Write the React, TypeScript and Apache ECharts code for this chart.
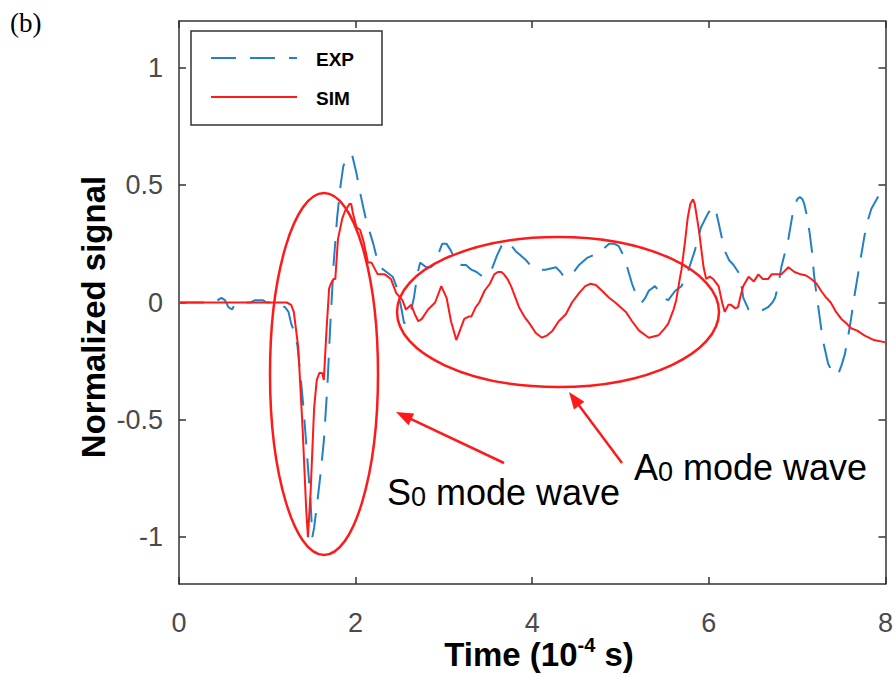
import React, { useEffect, useRef } from "react";
import * as echarts from "echarts";

// ---- data (time in 1e-4 s, normalized signal) ----
const expTime = [
  0, 0.4, 0.44, 0.48, 0.52, 0.56, 0.6, 0.63, 0.68, 0.75, 0.81, 0.86, 0.9, 0.95, 0.99, 1.1, 1.2, 1.24, 1.27, 1.3,
  1.34, 1.38, 1.41, 1.45, 1.49, 1.51, 1.53, 1.56, 1.6, 1.64, 1.68, 1.71, 1.75, 1.79, 1.83, 1.86, 1.9, 1.94, 1.96, 2.01,
  2.05, 2.09, 2.12, 2.16, 2.2, 2.24, 2.28, 2.35, 2.42, 2.48, 2.52, 2.55, 2.6, 2.63, 2.66, 2.7, 2.73, 2.8, 2.85, 2.91,
  2.95, 2.98, 3.03, 3.08, 3.14, 3.2, 3.25, 3.31, 3.37, 3.44, 3.5, 3.55, 3.6, 3.65, 3.7, 3.75, 3.81, 3.87, 3.93, 4.0,
  4.08, 4.15, 4.21, 4.27, 4.32, 4.36, 4.4, 4.45, 4.53, 4.62, 4.68, 4.75, 4.81, 4.87, 4.93, 4.98, 5.02, 5.06, 5.13, 5.17,
  5.21, 5.24, 5.28, 5.32, 5.39, 5.43, 5.47, 5.54, 5.58, 5.62, 5.69, 5.73, 5.77, 5.84, 5.91, 5.99, 6.05, 6.08, 6.11, 6.15,
  6.18, 6.23, 6.28, 6.35, 6.37, 6.39, 6.45, 6.5, 6.56, 6.62, 6.67, 6.72, 6.75, 6.79, 6.82, 6.86, 6.9, 6.95, 7.0, 7.03,
  7.06, 7.08, 7.11, 7.14, 7.17, 7.19, 7.22, 7.25, 7.29, 7.35, 7.4, 7.43, 7.47, 7.5, 7.54, 7.57, 7.61, 7.64, 7.68, 7.72,
  7.76, 7.8, 7.84, 7.87, 7.93, 8.0,
];
const expValue = [
  0, 0, 0.01, 0.02, 0.01, -0.02, -0.03, -0.01, 0, 0, 0, 0.01, 0.01, 0.01, 0, 0, -0.02, -0.04, -0.09, -0.12,
  -0.18, -0.33, -0.45, -0.65, -0.85, -1.0, -0.96, -0.87, -0.74, -0.59, -0.36, -0.12, 0.16, 0.36, 0.5, 0.58, 0.62, 0.63, 0.63, 0.55,
  0.47, 0.4, 0.35, 0.3, 0.25, 0.19, 0.15, 0.13, 0.11, 0.05, -0.03, -0.09, -0.05, -0.03, 0.02, 0.12, 0.17, 0.15, 0.15, 0.17,
  0.22, 0.25, 0.25, 0.22, 0.17, 0.16, 0.16, 0.14, 0.13, 0.11, 0.12, 0.15, 0.2, 0.24, 0.26, 0.25, 0.22, 0.2, 0.18, 0.15,
  0.14, 0.14, 0.145, 0.15, 0.13, 0.11, 0.11, 0.12, 0.16, 0.19, 0.2, 0.21, 0.23, 0.25, 0.25, 0.24, 0.21, 0.17, 0.08, 0.04,
  0.01, 0, 0.02, 0.05, 0.07, 0.05, 0.02, 0.01, 0.03, 0.05, 0.07, 0.1, 0.14, 0.22, 0.32, 0.38, 0.41, 0.39, 0.34, 0.27,
  0.22, 0.18, 0.16, 0.12, 0.07, 0.02, -0.03, -0.04, -0.04, -0.03, -0.02, 0, 0.02, 0.08, 0.15, 0.21, 0.27, 0.38, 0.44, 0.45,
  0.44, 0.42, 0.37, 0.3, 0.21, 0.12, 0.03, -0.05, -0.16, -0.26, -0.3, -0.31, -0.3, -0.27, -0.22, -0.16, -0.07, 0.01, 0.1, 0.19,
  0.28, 0.35, 0.4, 0.42, 0.46, 0.48,
];

const simTime = [
  0, 1.0, 1.22, 1.27, 1.3, 1.35, 1.4, 1.44, 1.46, 1.49, 1.53, 1.56, 1.59, 1.62, 1.64, 1.67, 1.7, 1.72, 1.75, 1.77,
  1.8, 1.85, 1.88, 1.93, 1.95, 1.97, 2.01, 2.05, 2.09, 2.14, 2.18, 2.25, 2.33, 2.4, 2.46, 2.53, 2.57, 2.63, 2.67, 2.71,
  2.75, 2.82, 2.9, 2.97, 3.03, 3.08, 3.14, 3.19, 3.23, 3.28, 3.31, 3.36, 3.4, 3.46, 3.52, 3.57, 3.61, 3.65, 3.68, 3.72,
  3.76, 3.8, 3.85, 3.91, 3.97, 4.04, 4.11, 4.17, 4.23, 4.3, 4.38, 4.45, 4.53, 4.6, 4.66, 4.72, 4.79, 4.87, 4.94, 5.0,
  5.06, 5.13, 5.21, 5.32, 5.43, 5.5, 5.54, 5.6, 5.63, 5.67, 5.69, 5.73, 5.76, 5.79, 5.82, 5.84, 5.87, 5.89, 5.94, 5.97,
  6.01, 6.05, 6.11, 6.15, 6.18, 6.22, 6.25, 6.3, 6.33, 6.36, 6.39, 6.45, 6.51, 6.56, 6.61, 6.67, 6.71, 6.75, 6.82, 6.9,
  6.97, 7.04, 7.1, 7.16, 7.22, 7.27, 7.33, 7.38, 7.44, 7.5, 7.56, 7.61, 7.68, 7.76, 7.87, 8.0,
];
const simValue = [
  0, 0, 0, -0.01, -0.04, -0.19, -0.54, -0.88, -1.0, -0.81, -0.45, -0.33, -0.3, -0.3, -0.33, -0.12, 0.06, 0.08, 0.1, 0.1,
  0.27, 0.36, 0.39, 0.42, 0.42, 0.38, 0.32, 0.31, 0.26, 0.17, 0.17, 0.12, 0.12, 0.1, 0.04, 0.01, -0.03, -0.01, -0.05, -0.08,
  -0.07, -0.03, 0, 0.07, 0.02, -0.08, -0.16, -0.11, -0.07, -0.06, -0.06, -0.02, 0, 0.05, 0.08, 0.12, 0.13, 0.13, 0.12, 0.1,
  0.07, 0.03, -0.02, -0.06, -0.09, -0.13, -0.15, -0.14, -0.12, -0.08, -0.05, 0, 0.04, 0.07, 0.08, 0.075, 0.05, 0.02, 0, -0.02,
  -0.04, -0.08, -0.12, -0.15, -0.14, -0.11, -0.09, -0.03, 0.01, 0.1, 0.14, 0.26, 0.36, 0.42, 0.44, 0.42, 0.35, 0.3, 0.15, 0.1,
  0.11, 0.1, 0.07, 0, -0.04, -0.01, -0.01, -0.025, -0.02, 0.03, 0.07, 0.11, 0.09, 0.12, 0.1, 0.1, 0.12, 0.12, 0.12, 0.15,
  0.13, 0.12, 0.115, 0.1, 0.08, 0.05, 0.02, 0, -0.04, -0.07, -0.09, -0.11, -0.12, -0.14, -0.16, -0.17,
];

const yTicks = [-1, -0.5, 0, 0.5, 1];
const seriesNames = ["EXP", "SIM"];

const SANS = "'Liberation Sans', Arial, Helvetica, sans-serif";
const RED = "#ff1a1a";
const BLUE = "#2380c6";
const AXIS = "#333333";
const EXP_DASH = [25, 14];

function arrow(tail: number[], tip: number[]) {
  const dx = tip[0] - tail[0];
  const dy = tip[1] - tail[1];
  const len = Math.hypot(dx, dy);
  const ux = dx / len;
  const uy = dy / len;
  const hl = 17;
  const hw = 6.5;
  const bx = tip[0] - hl * ux;
  const by = tip[1] - hl * uy;
  const px = -uy;
  const py = ux;
  return [
    {
      type: "line",
      z: 100,
      shape: { x1: tail[0], y1: tail[1], x2: bx + 2 * ux, y2: by + 2 * uy },
      style: { stroke: RED, lineWidth: 2.5 },
    },
    {
      type: "polygon",
      z: 100,
      shape: {
        points: [
          [tip[0], tip[1]],
          [bx + hw * px, by + hw * py],
          [bx - hw * px, by - hw * py],
        ],
      },
      style: { fill: RED },
    },
  ];
}

export default function App() {
  const ref = useRef<HTMLDivElement>(null);

  useEffect(() => {
    if (!ref.current) return;
    const chart = echarts.init(ref.current, undefined, { renderer: "svg" });

    const expData = expTime.map((t, i) => [t, expValue[i]]);
    const simData = simTime.map((t, i) => [t, simValue[i]]);

    const axisLineStyle = { color: AXIS, width: 1.5 };
    const baseX = {
      type: "value" as const,
      min: 0,
      max: 8,
      interval: 2,
      splitLine: { show: false },
      axisLine: { show: true, onZero: false, lineStyle: axisLineStyle },
      axisTick: { show: true, inside: true, length: 7, lineStyle: axisLineStyle },
    };
    const baseY = {
      type: "value" as const,
      min: -1.2,
      max: 1.2,
      splitLine: { show: false },
      axisLine: { show: true, onZero: false, lineStyle: axisLineStyle },
      axisTick: { show: true, inside: true, length: 7, lineStyle: axisLineStyle, customValues: yTicks },
    };

    const legendText = (text: string, y: number) => ({
      type: "text",
      z: 110,
      x: 316,
      y,
      style: {
        text,
        font: `bold 19px ${SANS}`,
        fill: "#000",
        align: "left",
        verticalAlign: "middle",
      },
    });

    chart.setOption({
      animation: false,
      backgroundColor: "#ffffff",
      grid: { left: 179, top: 21, width: 710, height: 563, containLabel: false },
      xAxis: [
        {
          ...baseX,
          position: "bottom",
          axisLabel: {
            show: true,
            margin: 25,
            fontSize: 27,
            fontFamily: SANS,
            color: "#4a4a4a",
            showMinLabel: true,
            showMaxLabel: true,
            formatter: (v: number) => String(v),
          },
        },
        { ...baseX, position: "top", axisLabel: { show: false } },
      ],
      yAxis: [
        {
          ...baseY,
          position: "left",
          axisLabel: {
            show: true,
            margin: 16,
            fontSize: 27,
            fontFamily: SANS,
            color: "#4a4a4a",
            customValues: yTicks,
            formatter: (v: number) => String(v),
          },
        },
        { ...baseY, position: "right", axisLabel: { show: false } },
      ],
      series: [
        {
          name: seriesNames[0],
          type: "line",
          data: expData,
          showSymbol: false,
          symbol: "none",
          itemStyle: { color: BLUE },
          lineStyle: { color: BLUE, width: 2, type: EXP_DASH },
          z: 2,
        },
        {
          name: seriesNames[1],
          type: "line",
          data: simData,
          showSymbol: false,
          symbol: "none",
          itemStyle: { color: RED },
          lineStyle: { color: RED, width: 2 },
          z: 3,
        },
      ],
      graphic: [
        // legend box
        {
          type: "rect",
          z: 105,
          shape: { x: 191, y: 31, width: 191, height: 94 },
          style: { fill: "#fff", stroke: AXIS, lineWidth: 1.5 },
        },
        {
          type: "line",
          z: 110,
          shape: { x1: 211, y1: 58, x2: 297, y2: 58 },
          style: { stroke: BLUE, lineWidth: 2, lineDash: EXP_DASH },
        },
        {
          type: "line",
          z: 110,
          shape: { x1: 211, y1: 97, x2: 297, y2: 97 },
          style: { stroke: RED, lineWidth: 2 },
        },
        legendText(seriesNames[0], 59),
        legendText(seriesNames[1], 98),
        {
          type: "text",
          left: 10,
          top: 9,
          style: { text: "(b)", font: "27px 'Liberation Serif', 'Times New Roman', serif", fill: "#000" },
        },
        {
          type: "text",
          x: 93,
          y: 317,
          rotation: Math.PI / 2,
          style: {
            text: "Normalized signal",
            font: `bold 33px ${SANS}`,
            fill: "#000",
            align: "center",
            verticalAlign: "middle",
          },
        },
        {
          type: "text",
          x: 539,
          y: 653,
          style: {
            text: "{t|Time (10}{s|-4}{t| s)}",
            fill: "#000",
            align: "center",
            verticalAlign: "middle",
            rich: {
              t: { fontFamily: SANS, fontWeight: "bold", fontSize: 33, fill: "#000", verticalAlign: "bottom", lineHeight: 36 },
              s: { fontFamily: SANS, fontWeight: "bold", fontSize: 20, fill: "#000", verticalAlign: "top", lineHeight: 22 },
            },
          },
        },
        {
          type: "ellipse",
          z: 100,
          shape: { cx: 324, cy: 374, rx: 54, ry: 181 },
          style: { fill: "none", stroke: RED, lineWidth: 2.5 },
        },
        {
          type: "ellipse",
          z: 100,
          shape: { cx: 558, cy: 312, rx: 161, ry: 75 },
          style: { fill: "none", stroke: RED, lineWidth: 2.5 },
        },
        ...arrow([504, 463], [396, 412]),
        ...arrow([622, 463], [569, 392]),
        {
          type: "text",
          z: 100,
          x: 387,
          y: 510,
          style: {
            text: "{b|S}{s|0}{b| mode wave}",
            fill: "#000",
            align: "left",
            verticalAlign: "bottom",
            rich: {
              b: { fontFamily: SANS, fontSize: 36, fill: "#000", verticalAlign: "bottom", lineHeight: 40 },
              s: { fontFamily: SANS, fontSize: 27, fill: "#000", verticalAlign: "bottom", lineHeight: 38 },
            },
          },
        },
        {
          type: "text",
          z: 100,
          x: 634,
          y: 485,
          style: {
            text: "{b|A}{s|0}{b| mode wave}",
            fill: "#000",
            align: "left",
            verticalAlign: "bottom",
            rich: {
              b: { fontFamily: SANS, fontSize: 36, fill: "#000", verticalAlign: "bottom", lineHeight: 40 },
              s: { fontFamily: SANS, fontSize: 27, fill: "#000", verticalAlign: "bottom", lineHeight: 38 },
            },
          },
        },
      ],
    });

    return () => {
      chart.dispose();
    };
  }, []);

  return (
    <div
      ref={ref}
      style={{ position: "absolute", left: 0, top: 0, width: 896, height: 677, background: "#fff" }}
    />
  );
}
